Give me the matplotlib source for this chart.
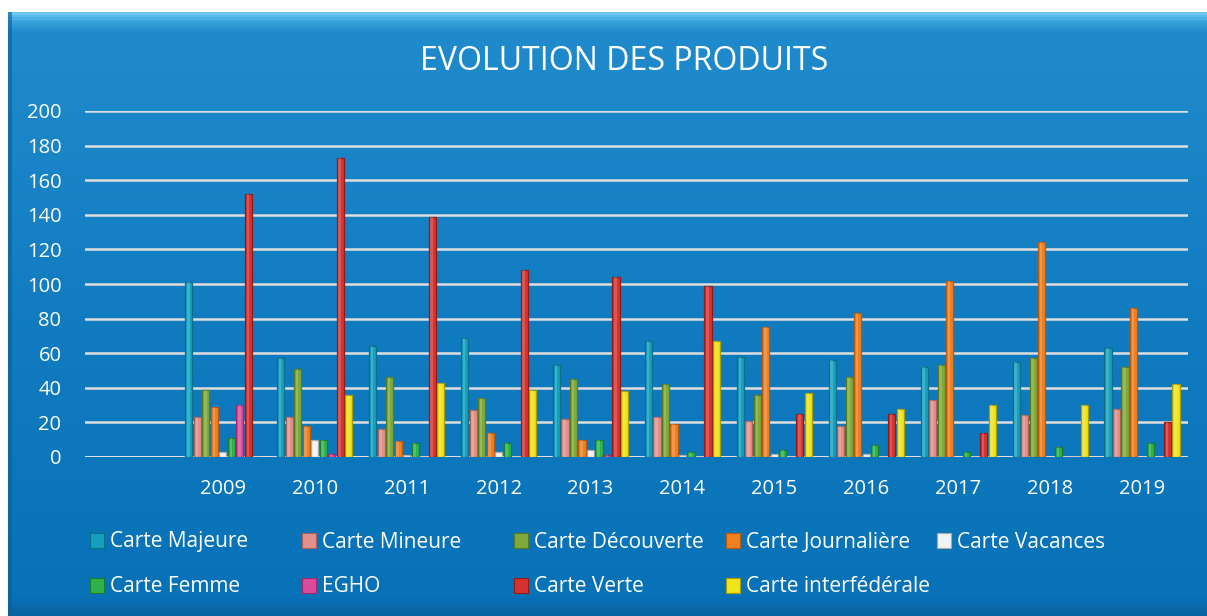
import numpy as np
import matplotlib
matplotlib.use("Agg")
import matplotlib.pyplot as plt
from matplotlib.patches import Rectangle
from matplotlib.colors import LinearSegmentedColormap

plt.rcParams['font.family'] = ['Open Sans', 'DejaVu Sans']

# ---- data ----
years = ["2009", "2010", "2011", "2012", "2013", "2014", "2015", "2016", "2017", "2018", "2019"]
carte_majeure = [101, 57, 64, 69, 53, 67, 58, 56, 52, 55, 63]
carte_mineure = [23, 23, 16, 27, 22, 23, 21, 18, 33, 24, 28]
carte_decouverte = [39, 51, 46, 34, 45, 42, 36, 46, 53, 57, 52]
carte_journaliere = [29, 18, 9, 14, 10, 19, 75, 83, 102, 124, 86]
carte_vacances = [3, 10, 1, 3, 4, 1, 2, 2, 0, 0, 0]
carte_femme = [11, 10, 8, 8, 10, 3, 4, 7, 3, 6, 8]
egho = [30, 2, 0, 0, 1, 0, 0, 0, 0, 0, 0]
carte_verte = [152, 173, 139, 108, 104, 99, 25, 25, 14, 0, 20]
carte_interfederale = [0, 36, 43, 39, 38, 67, 37, 28, 30, 30, 42]

series_names = ["Carte Majeure", "Carte Mineure", "Carte Découverte", "Carte Journalière",
                "Carte Vacances", "Carte Femme", "EGHO", "Carte Verte", "Carte interfédérale"]
series_values = [carte_majeure, carte_mineure, carte_decouverte, carte_journaliere,
                 carte_vacances, carte_femme, egho, carte_verte, carte_interfederale]
colors = ["#15a0bf", "#e2908b", "#7fa93a", "#f07f1f", "#f2f2f2",
          "#2fb24c", "#dc4a9c", "#d6322f", "#f0e41a"]
edges = ["#0b6f86", "#a8605c", "#567a22", "#b85a10", "#a8a8a8",
         "#1c7a31", "#9c2a6a", "#8e1c1a", "#a89c0a"]
yticks = [0, 20, 40, 60, 80, 100, 120, 140, 160, 180, 200]

W, H = 1207, 616
fig = plt.figure(figsize=(W / 100, H / 100), dpi=100)
fig.patch.set_facecolor("white")

# ---- background panel with gradient ----
bg = fig.add_axes([8 / W, 0, 1 - 8 / W, (H - 12) / H])
bg.set_axis_off()
cmap = LinearSegmentedColormap.from_list("bgc", [
    (0.0, "#6cc8f0"), (0.012, "#3aa6de"), (0.03, "#1f8bcc"),
    (0.5, "#117cc0"), (0.97, "#0872b8"), (1.0, "#0a64a2")])
grad = np.linspace(0, 1, 600).reshape(-1, 1)
bg.imshow(grad, aspect="auto", cmap=cmap, extent=[0, 1, 0, 1], origin="upper")
bg.set_xlim(0, 1)
bg.set_ylim(0, 1)
bg.add_patch(Rectangle((0, 0), 0.003, 1, color="#0a5f98", alpha=0.6, lw=0))

# ---- chart axes ----
left, right = 85 / W, 1188 / W
bottom, top = (H - 457) / H, (H - 111) / H
ax = fig.add_axes([left, bottom, right - left, top - bottom])
ax.patch.set_alpha(0)

x = np.arange(len(years))
n = len(series_names)
step = 0.0925
bw = 0.078
for i, (name, vals) in enumerate(zip(series_names, series_values)):
    pos = x + (i - (n - 1) / 2) * step
    ax.bar(pos, vals, width=bw, color=colors[i],
           edgecolor=edges[i], linewidth=0.9, zorder=3, label=name)
    # cylinder highlight
    ax.bar(pos - bw * 0.08, vals, width=bw * 0.35, color="white", alpha=0.18,
           linewidth=0, zorder=4)

ax.set_xlim(-1.5, len(years) - 0.5)
ax.set_ylim(0, 200)
ax.set_yticks(yticks)
ax.set_xticks(x)
ax.set_xticklabels(years)
ax.grid(axis="y", color="#dedede", linewidth=1.8, zorder=1)
ax.set_axisbelow(True)
for s in ax.spines.values():
    s.set_visible(False)
ax.tick_params(axis="both", length=0, colors="white", labelsize=14.5)
ax.tick_params(axis="y", pad=17)
ax.tick_params(axis="x", pad=16)
ax.axhline(0, color="#dedede", linewidth=2.2, zorder=2)

# ---- title ----
fig.text(624 / W, 1 - 62 / H, "EVOLUTION DES PRODUITS", color="white",
         fontsize=23, ha="center", va="center")

# ---- legend ----
col_x = [90, 302, 514, 726, 937]
row_y = [542, 587]
for i, name in enumerate(series_names):
    c, r = i % 5, i // 5
    h = Rectangle((0, 0), 1, 1, facecolor=colors[i], edgecolor=edges[i], linewidth=0.8)
    fig.legend(handles=[h], labels=[name], loc="center left",
               bbox_to_anchor=(col_x[c] / W, 1 - row_y[r] / H),
               frameon=False, fontsize=15, labelcolor="white",
               handlelength=0.65, handleheight=0.7, handletextpad=0.3,
               borderpad=0, borderaxespad=0)

fig.savefig("out.png", dpi=100, facecolor=fig.get_facecolor())
